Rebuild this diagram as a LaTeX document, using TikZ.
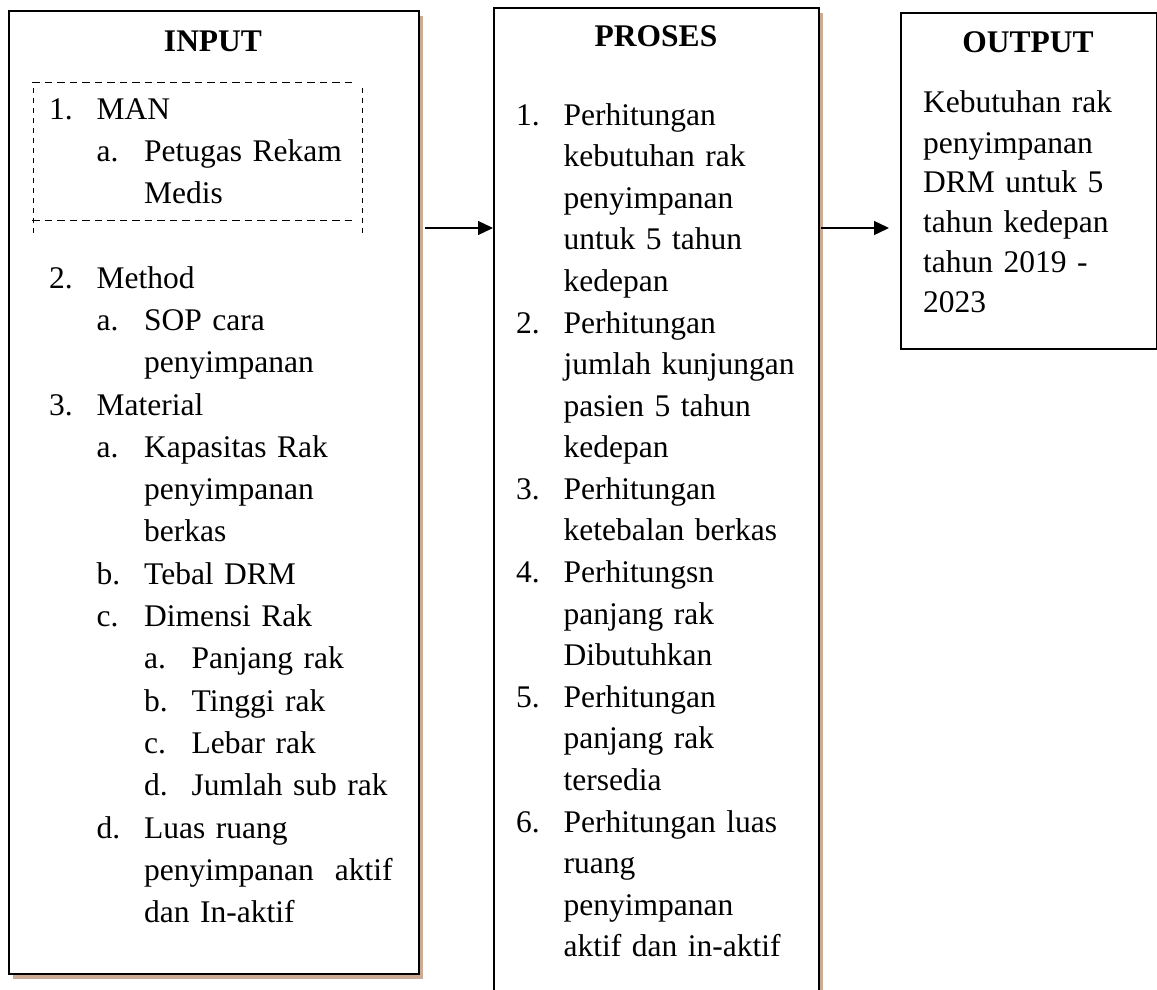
\documentclass[tikz,border=0pt]{standalone}
\usepackage{fontspec}
\setmainfont{Liberation Serif}
\usetikzlibrary{arrows.meta, shadows}
\definecolor{shadc}{RGB}{203,170,150}
\tikzset{
  frame/.style={rectangle, draw, fill=white, line width=2.3pt,
                anchor=north west, inner sep=0pt},
  shad/.style={drop shadow={shadow xshift=4pt, shadow yshift=-5pt,
               fill=shadc, opacity=1}},
  head/.style={font=\fontsize{31.5pt}{42pt}\selectfont\bfseries, anchor=base},
  body/.style={font=\fontsize{31.5pt}{42.3pt}\selectfont, anchor=base west,
               align=left, inner sep=0pt},
  grp/.style={line width=1pt, dash pattern=on 7.5pt off 5pt},
  grpv/.style={grp, dash pattern=on 5pt off 5pt},
  arr/.style={-{Triangle[length=15pt, width=14pt]}, line width=1.4pt},
}
\newcommand{\lb}[1]{\makebox[47.5pt][l]{#1}}
\newcommand{\ind}{\hspace*{47.5pt}}

\begin{document}
\begin{tikzpicture}[x=1pt, y=-1pt]
  \useasboundingbox (0,0) rectangle (1157,990);

  % the three boxes
  \node[frame, shad, minimum width=410pt, minimum height=963pt] (input) at (8,10) {};
  \node[frame, shad, minimum width=325pt, minimum height=1000pt] (proses) at (493,7) {};
  \node[frame, line width=2pt, minimum width=256pt, minimum height=336pt] (output) at (900,12) {};

  \node[head] (inhead) at (213,52) {INPUT};
  \node[head] (prhead) at (656,47) {PROSES};
  \node[head] (outhead) at (1028,53) {OUTPUT};

  \node[body, text width=360pt] (inlist) at (49,119)
    {\lb{1.}MAN\\
     \ind\lb{a.}Petugas Rekam\\
     \ind\ind Medis\\[\baselineskip]
     \lb{2.}Method\\
     \ind\lb{a.}SOP cara\\
     \ind\ind penyimpanan\\
     \lb{3.}Material\\
     \ind\lb{a.}Kapasitas Rak\\
     \ind\ind penyimpanan\\
     \ind\ind berkas\\
     \ind\lb{b.}Tebal DRM\\
     \ind\lb{c.}Dimensi Rak\\
     \ind\ind\lb{a.}Panjang rak\\
     \ind\ind\lb{b.}Tinggi rak\\
     \ind\ind\lb{c.}Lebar rak\\
     \ind\ind\lb{d.}Jumlah sub rak\\
     \ind\lb{d.}Luas ruang\\
     \ind\ind penyimpanan\ \ aktif\\
     \ind\ind dan In-aktif};

  % MAN group
  \draw[grp] (32,83) -- (355,83) (32,220) -- (355,220);
  \draw[grpv] (33,88) -- (33,234) (362,88) -- (362,234);

  \node[body, text width=300pt, font=\fontsize{31.5pt}{41.6pt}\selectfont] (prlist) at (516,125)
    {\lb{1.}Perhitungan\\
     \ind kebutuhan rak\\
     \ind penyimpanan\\
     \ind untuk 5 tahun\\
     \ind kedepan\\
     \lb{2.}Perhitungan\\
     \ind jumlah kunjungan\\
     \ind pasien 5 tahun\\
     \ind kedepan\\
     \lb{3.}Perhitungan\\
     \ind ketebalan berkas\\
     \lb{4.}Perhitungsn\\
     \ind panjang rak\\
     \ind Dibutuhkan\\
     \lb{5.}Perhitungan\\
     \ind panjang rak\\
     \ind tersedia\\
     \lb{6.}Perhitungan luas\\
     \ind ruang\\
     \ind penyimpanan\\
     \ind aktif dan in-aktif};

  \node[body, text width=230pt, font=\fontsize{31.5pt}{40pt}\selectfont] (outtext) at (923,113)
    {Kebutuhan rak\\
     penyimpanan\\
     DRM untuk 5\\
     tahun kedepan\\
     tahun 2019 -\\
     2023};

  \coordinate (lvl) at (0,228);
  \draw[arr, shorten <=5pt] (input.east |- lvl) -- (proses.west |- lvl);
  \draw[arr, shorten <=1pt, shorten >=11pt] (proses.east |- lvl) -- (output.west |- lvl);

\end{tikzpicture}
\end{document}
